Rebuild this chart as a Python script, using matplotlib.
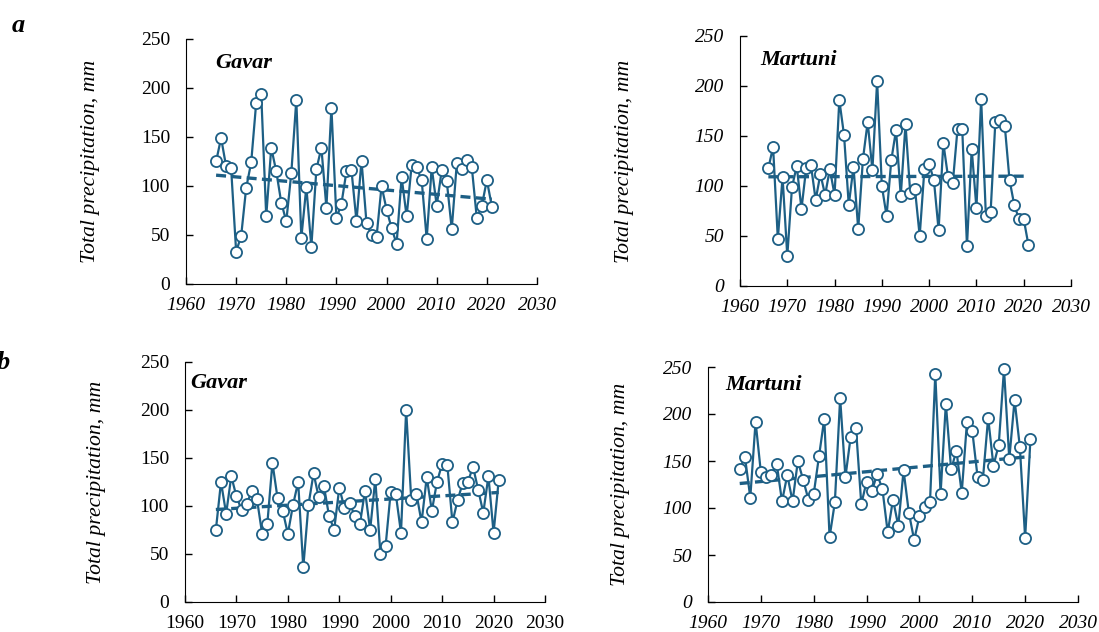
import numpy as np
import matplotlib
matplotlib.use("Agg")
import matplotlib.pyplot as plt

years = np.arange(1966, 2022)

gavar_a = [125, 149, 120, 118, 33, 49, 98, 124, 185, 194, 69, 139, 115, 83, 64, 113,
           188, 47, 99, 38, 117, 139, 78, 180, 67, 82, 115, 116, 64, 126, 62, 50, 48,
           100, 76, 57, 41, 109, 69, 121, 119, 106, 46, 119, 80, 116, 105, 56, 123,
           117, 127, 119, 67, 80, 106, 79]
martuni_a = [118, 139, 47, 109, 30, 99, 120, 77, 118, 121, 86, 112, 91, 117, 91, 186,
             151, 81, 119, 57, 127, 164, 116, 205, 100, 70, 126, 156, 90, 162, 93, 97,
             50, 117, 122, 106, 56, 143, 109, 103, 157, 157, 40, 137, 78, 187, 70, 74,
             164, 166, 160, 106, 81, 67, 67, 41]
gavar_b = [75, 125, 92, 131, 110, 96, 102, 116, 107, 71, 81, 145, 108, 95, 71, 101,
           125, 36, 101, 134, 109, 121, 90, 75, 119, 98, 103, 90, 81, 116, 75, 128,
           50, 58, 115, 112, 72, 200, 106, 113, 83, 130, 95, 125, 144, 143, 83, 106,
           124, 125, 141, 117, 93, 131, 72, 127]
martuni_b = [142, 154, 111, 192, 138, 133, 135, 147, 107, 135, 107, 150, 130, 109, 115,
             155, 195, 69, 106, 217, 133, 176, 185, 104, 128, 118, 136, 120, 74, 109,
             81, 140, 95, 66, 91, 101, 106, 243, 115, 211, 141, 161, 116, 192, 182, 133,
             130, 196, 145, 167, 248, 152, 215, 165, 68, 173]

col = "#1d5f85"
serif = ["Liberation Serif", "DejaVu Serif"]

fig = plt.figure(figsize=(10.99, 6.32), dpi=100)
W, H = 1099, 632

# (data, name, left, right, top, bottom px, ytick italic, xtick italic, label pos px, ylabel x px)
panels = [
    (gavar_a, "Gavar", 186, 537, 39, 284, False, True, (215, 63), 91),
    (martuni_a, "Martuni", 740, 1071, 36, 286, True, True, (760, 60), 625),
    (gavar_b, "Gavar", 185, 545, 362, 602, False, False, (190, 383), 97),
    (martuni_b, "Martuni", 708, 1078, 367, 602, True, True, (725, 385), 621),
]

for data, name, l, r, t, b, yit, xit, lab, ylx in panels:
    ax = fig.add_axes([l / W, 1 - b / H, (r - l) / W, (b - t) / H])
    ax.plot(years, data, "-o", color=col, lw=1.6, ms=8, mfc="white",
            mec=col, mew=1.3, zorder=3, clip_on=False)
    k, c = np.polyfit(years, data, 1)
    ax.plot(years, k * years + c, "--", color=col, lw=2.4, dashes=(3, 1.6), zorder=2)
    ax.set_xlim(1960, 2030)
    ax.set_ylim(0, 250)
    ax.set_xticks(range(1960, 2031, 10))
    ax.set_yticks(range(0, 251, 50))
    for s in ["top", "right"]:
        ax.spines[s].set_visible(False)
    ax.tick_params(direction="in", length=5, width=1, labelsize=14)
    ax.tick_params(axis="y", pad=11.5)
    ax.tick_params(axis="x", pad=9.5)
    for tl in ax.get_yticklabels():
        tl.set_fontfamily(serif)
        tl.set_fontstyle("italic" if yit else "normal")
    for tl in ax.get_xticklabels():
        tl.set_fontfamily(serif)
        tl.set_fontstyle("italic" if xit else "normal")
    fig.text(lab[0] / W, 1 - lab[1] / H, name, family=serif, style="italic",
             weight="bold", fontsize=16, va="center", ha="left")
    fig.text(ylx / W, 1 - (t + b) / 2 / H, "Total precipitation, mm", family=serif,
             style="italic", fontsize=15.7, rotation=90, va="center", ha="center")

fig.text(12 / W, 1 - 25 / H, "a", family=serif, style="italic", weight="bold",
         fontsize=19, va="center")
fig.text(-3 / W, 1 - 362 / H, "b", family=serif, style="italic", weight="bold",
         fontsize=19, va="center")

fig.savefig("out.png", dpi=100)
